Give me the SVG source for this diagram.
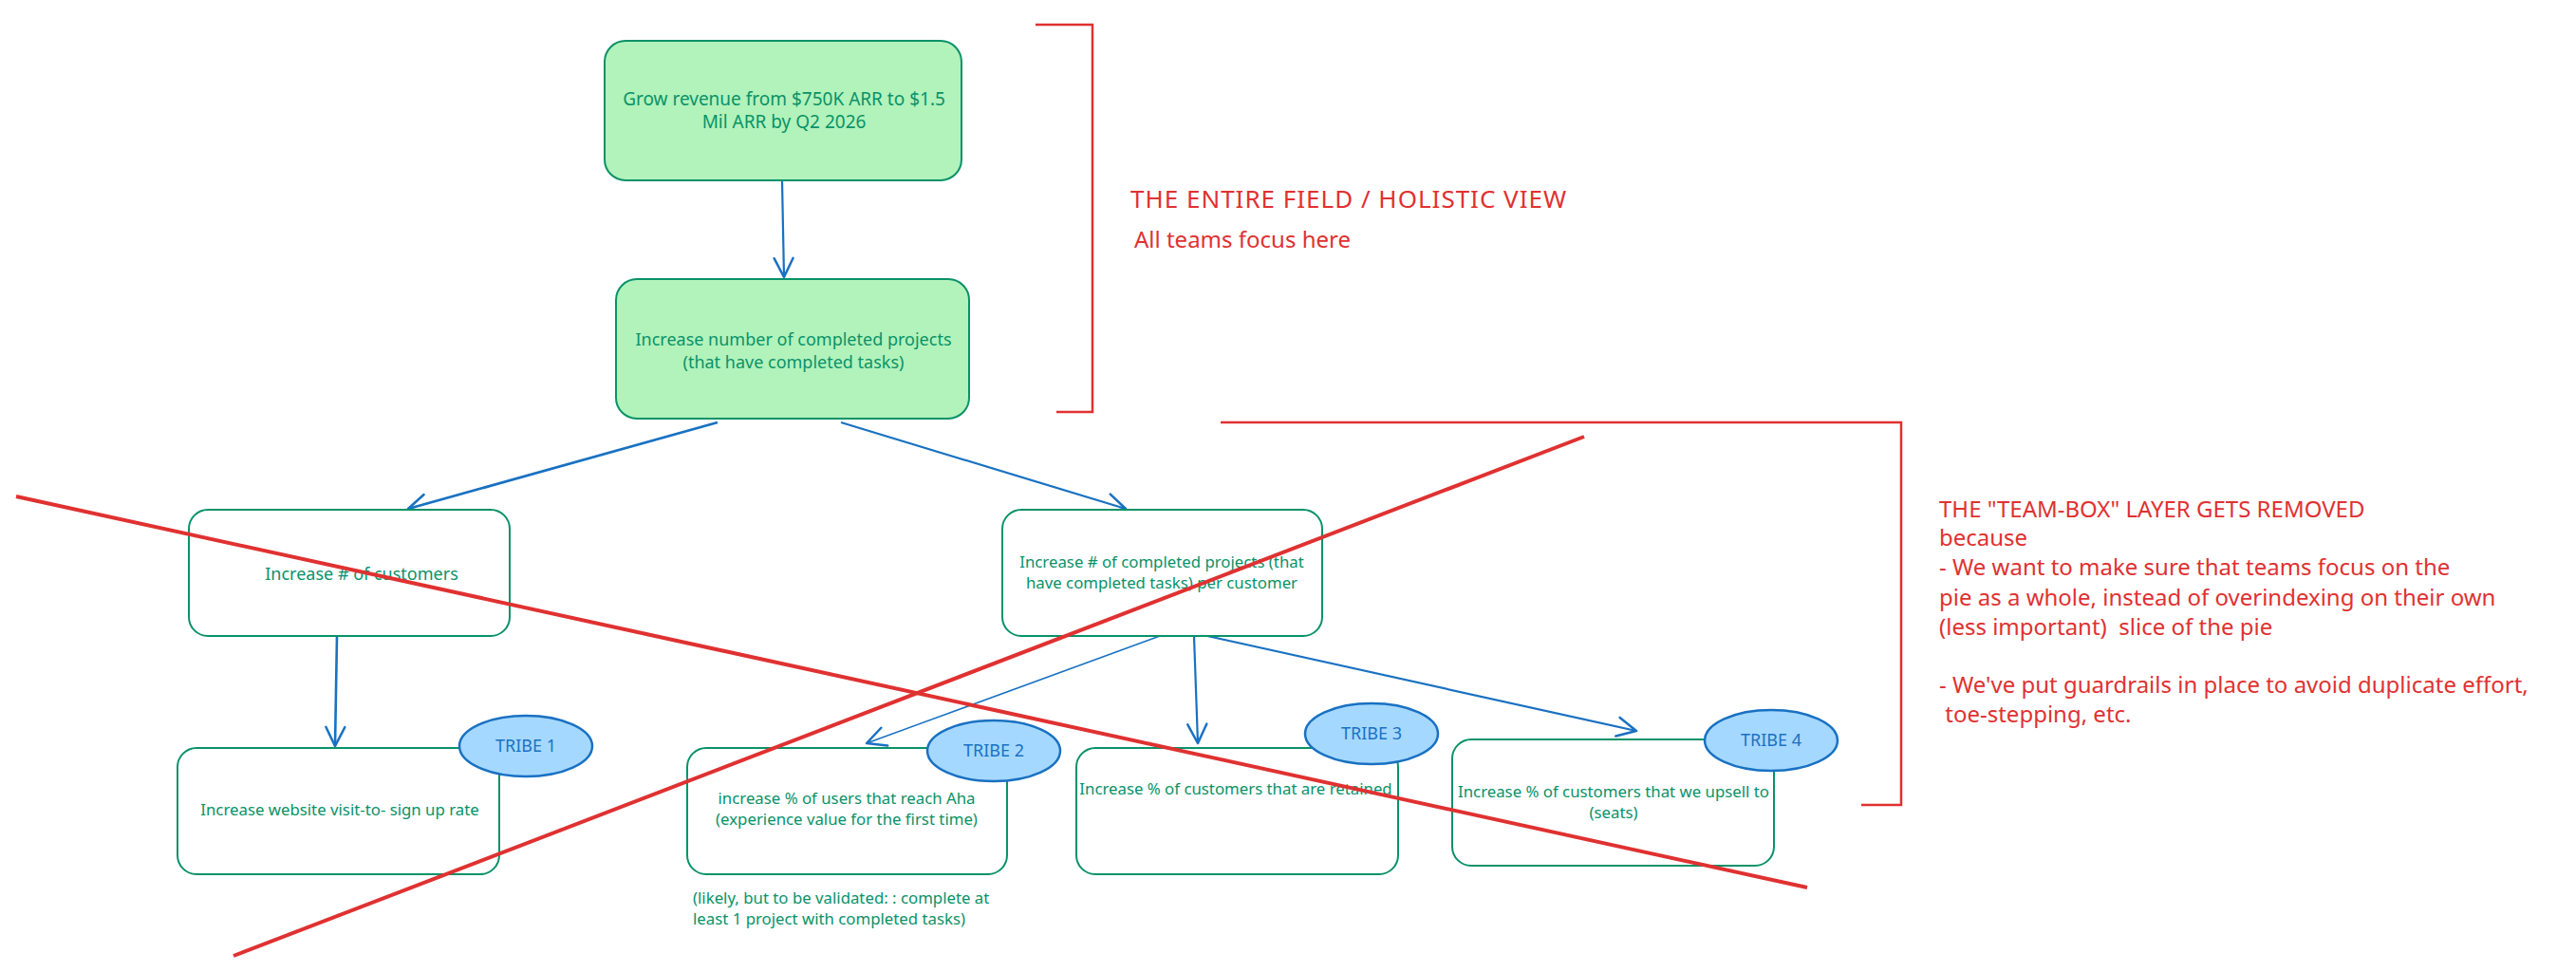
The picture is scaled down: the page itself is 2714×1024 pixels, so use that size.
<svg xmlns="http://www.w3.org/2000/svg" width="2714" height="1024" viewBox="0 0 2714 1024">
<defs>
<marker id="ah" markerUnits="userSpaceOnUse" markerWidth="30" markerHeight="30" viewBox="-20 -10 24 20" refX="0" refY="0" orient="auto">
<path d="M-16,-8 L0,0 L-16,8" fill="none" stroke="#1971c2" stroke-width="2" stroke-linecap="round" stroke-linejoin="round"/>
</marker>
</defs>
<style>
.box{fill:#ffffff;stroke:#099268;stroke-width:2}
.box.top{fill:#b2f2bb}
.t{font-family:"Noto Sans","Open Sans",sans-serif;fill:#099268;text-anchor:middle}
.tb{font-size:19px}
.ts{font-size:16.8px}
.tribe{fill:#a5d8ff;stroke:#1971c2;stroke-width:2.5}
.tt{font-family:"Noto Sans","Open Sans",sans-serif;font-size:18px;fill:#1971c2;text-anchor:middle}
.conn{fill:none;stroke:#1971c2;stroke-width:2.2;marker-end:url(#ah)}
.red{fill:none;stroke:#e03131;stroke-width:2.5}
.cross{fill:none;stroke:#e03131;stroke-width:4}
.rt{font-family:"Noto Sans","Open Sans",sans-serif;font-size:24px;fill:#e03131;white-space:pre}
</style>
<rect width="2714" height="1024" fill="#ffffff"/>

<g id="connectors">
<path class="conn" d="M824,190 L826,292"/>
<path class="conn" d="M756,445 L430,536" style="stroke-width:2.8"/>
<path class="conn" d="M886,445 L1186,536"/>
<path class="conn" d="M355,670 L353,786" style="stroke-width:2.6"/>
<path class="conn" d="M1222,670 L913,783" style="stroke-width:1.5"/>
<path class="conn" d="M1258,670 L1262,783"/>
<path class="conn" d="M1272,670 L1724,770"/>
</g>

<g id="node-goal">
<rect class="box top" x="637" y="43" width="376" height="147" rx="22"/>
<text class="t tb" x="826" y="111">Grow revenue from $750K ARR to $1.5</text>
<text class="t tb" x="826" y="135">Mil ARR by Q2 2026</text>
</g>

<g id="node-projects">
<rect class="box top" x="649" y="294" width="372" height="147" rx="22"/>
<text class="t" style="font-size:18px" x="836" y="364">Increase number of completed projects</text>
<text class="t" style="font-size:18px" x="836" y="388">(that have completed tasks)</text>
</g>

<g id="node-customers">
<rect class="box" x="199" y="537" width="338" height="133" rx="20"/>
<text class="t" style="font-size:18px" x="381" y="611">Increase # of customers</text>
</g>

<g id="node-per-customer">
<rect class="box" x="1056" y="537" width="337" height="133" rx="20"/>
<text class="t ts" x="1224" y="598">Increase # of completed projects (that</text>
<text class="t ts" x="1224" y="620">have completed tasks) per customer</text>
</g>

<g id="node-signup">
<rect class="box" x="187" y="788" width="339" height="133" rx="20"/>
<text class="t ts" x="358" y="859">Increase website visit-to- sign up rate</text>
</g>
<g id="tribe-1">
<ellipse class="tribe" cx="554" cy="786" rx="70" ry="32"/>
<text class="tt" x="554" y="792">TRIBE 1</text>
</g>

<g id="node-aha">
<rect class="box" x="724" y="788" width="337" height="133" rx="20"/>
<text class="t ts" x="892" y="847">increase % of users that reach Aha</text>
<text class="t ts" x="892" y="869">(experience value for the first time)</text>
</g>
<g id="tribe-2">
<ellipse class="tribe" cx="1047" cy="791" rx="70" ry="32"/>
<text class="tt" x="1047" y="797">TRIBE 2</text>
</g>
<g id="note-aha">
<text class="t ts" style="text-anchor:start" x="730" y="952">(likely, but to be validated: : complete at</text>
<text class="t ts" style="text-anchor:start" x="730" y="974">least 1 project with completed tasks)</text>
</g>

<g id="node-retained">
<rect class="box" x="1134" y="788" width="339" height="133" rx="20"/>
<text class="t ts" x="1302" y="837">Increase % of customers that are retained</text>
</g>
<g id="tribe-3">
<ellipse class="tribe" cx="1445" cy="773" rx="70" ry="32"/>
<text class="tt" x="1445" y="779">TRIBE 3</text>
</g>

<g id="node-upsell">
<rect class="box" x="1530" y="779" width="339" height="133" rx="20"/>
<text class="t ts" x="1700" y="840">Increase % of customers that we upsell to</text>
<text class="t ts" x="1700" y="862">(seats)</text>
</g>
<g id="tribe-4">
<ellipse class="tribe" cx="1866" cy="780" rx="70" ry="32"/>
<text class="tt" x="1866" y="786">TRIBE 4</text>
</g>

<g id="annotation-holistic">
<path class="red" d="M1091,26 L1151,26 L1151,434 L1113,434"/>
<text class="rt" style="font-size:26px;letter-spacing:1px" x="1191" y="219">THE ENTIRE FIELD / HOLISTIC VIEW</text>
<text class="rt" x="1195" y="261">All teams focus here</text>
</g>

<g id="annotation-teambox">
<path class="red" d="M1286,445 L2003,445 L2003,848 L1961,848"/>
<text class="rt" x="2043" y="545">THE "TEAM-BOX" LAYER GETS REMOVED</text>
<text class="rt" x="2043" y="575">because</text>
<text class="rt" x="2043" y="606">- We want to make sure that teams focus on the</text>
<text class="rt" x="2043" y="638">pie as a whole, instead of overindexing on their own</text>
<text class="rt" x="2043" y="669" xml:space="preserve">(less important)  slice of the pie</text>
<text class="rt" x="2043" y="730">- We've put guardrails in place to avoid duplicate effort,</text>
<text class="rt" x="2043" y="761" xml:space="preserve"> toe-stepping, etc.</text>
</g>

<g id="cross-out">
<path class="cross" d="M17,523 L1904,935"/>
<path class="cross" d="M246,1007 L1669,460"/>
</g>
</svg>
